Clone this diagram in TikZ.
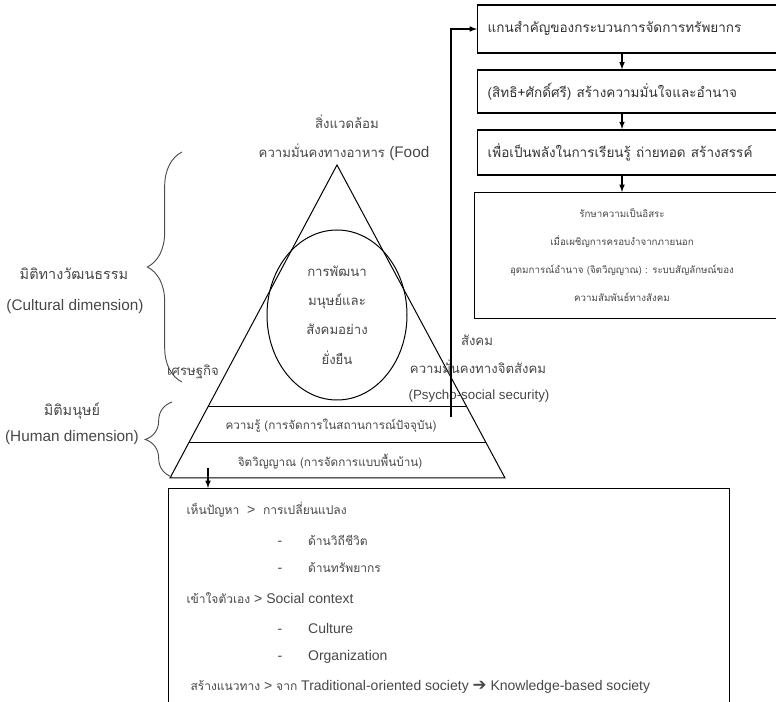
\documentclass[tikz,border=0pt]{standalone}
\usepackage{fontspec}
\setmainfont{Liberation Sans}
\newfontfamily\thaifont[Script=Thai,Scale=0.86]{Loma}
\newfontfamily\symfont{DejaVu Sans}
\usepackage{tikz}
\usetikzlibrary{arrows, calc, shapes.geometric, decorations.pathreplacing}
\newcommand{\tha}[1]{{\thaifont #1}}
\tikzstyle{grayText} = [text=black!72, inner sep=0pt, font=\fontsize{11.5}{14}\selectfont]
\tikzstyle{smallText} = [grayText, font=\fontsize{10}{12}\selectfont]
\tikzstyle{stripText} = [grayText, font=\fontsize{10.2}{12}\selectfont]
\tikzstyle{dimText} = [grayText, font=\fontsize{12.6}{14}\selectfont]
\tikzstyle{bodyText} = [grayText, anchor=west, font=\fontsize{10.5}{13}\selectfont]
\tikzstyle{flowBox} = [draw, rectangle, line width=1.1pt, anchor=west, align=left,
   text width=215pt, inner xsep=7.5pt, text=black!80, font=\fontsize{11.8}{14}\selectfont]
\tikzstyle{flowArrow} = [-latex, line width=0.9pt]
\tikzstyle{cultBrace} = [decorate, decoration={brace, amplitude=26pt}, black!70, line width=0.7pt]
\tikzstyle{humBrace} = [decorate, decoration={brace, amplitude=20pt}, black!70, line width=0.7pt]
\begin{document}
\begin{tikzpicture}[x=0.75pt, y=-0.75pt, line width=0.75pt]
  \useasboundingbox (0,0) rectangle (776,702);
  \clip (0,0) rectangle (776,702);

  % pyramid
  \coordinate (apex) at (337,165);
  \coordinate (bl) at (170,478);
  \coordinate (br) at (505,478);
  \draw (apex) -- (br) -- (bl) -- cycle;
  \draw ($(apex)!0.773!(bl)$) -- ($(apex)!0.773!(br)$);
  \draw ($(apex)!0.888!(bl)$) -- ($(apex)!0.888!(br)$);
  \node[draw, ellipse, minimum width=105pt, minimum height=127.5pt, inner sep=0pt,
    align=center, grayText, font=\fontsize{11.5}{22}\selectfont] (core) at (337,315)
    {\tha{การพัฒนา}\\\tha{มนุษย์และ}\\\tha{สังคมอย่าง}\\\tha{ยั่งยืน}};

  % labels round the pyramid
  \node[grayText] (envTh) at (347,122) {\tha{สิ่งแวดล้อม}};
  \node[grayText] (foodTh) at (344,152) {\tha{ความมั่นคงทางอาหาร} (Food};
  \node[grayText] (socTh) at (477,340) {\tha{สังคม}};
  \node[grayText] (psyTh) at (478,367) {\tha{ความมั่นคงทางจิตสังคม}};
  \node[smallText] (psyEn) at (479,396) {(Psycho-social security)};
  \node[grayText] (ecoTh) at (193,372) {\tha{เศรษฐกิจ}};
  \node[stripText] (knowTh) at (331,426) {\tha{ความรู้ (การจัดการในสถานการณ์ปัจจุบัน)}};
  \node[stripText] (spirTh) at (330,462) {\tha{จิตวิญญาณ (การจัดการแบบพื้นบ้าน)}};

  % dimensions
  \draw[cultBrace] (182,382) -- (182,152);
  \draw[humBrace] (172,477) -- (172,402);
  \node[dimText] (cultTh) at (74,274) {\tha{มิติทางวัฒนธรรม}};
  \node[grayText] (cultEn) at (75,307) {(Cultural dimension)};
  \node[dimText] (humTh) at (72,411) {\tha{มิติมนุษย์}};
  \node[grayText] (humEn) at (72,438) {(Human dimension)};

  % right column
  \node[flowBox, minimum height=36pt] (keyBox) at (477,29) {\tha{แกนสำคัญของกระบวนการจัดการทรัพยากร}};
  \node[flowBox, minimum height=32pt] (rightsBox) at (477,91.5) {\tha{(สิทธิ+ศักดิ์ศรี) สร้างความมั่นใจและอำนาจ}};
  \node[flowBox, minimum height=34pt] (powerBox) at (477,152.5) {\tha{เพื่อเป็นพลังในการเรียนรู้ ถ่ายทอด สร้างสรรค์}};
  \node[draw, line width=1.1pt, anchor=north west, minimum width=233pt, minimum height=94.5pt] (freeBox) at (474,192) {};
  \node[grayText, align=center, font=\fontsize{8.5}{21}\selectfont] (freeText) at (622,255)
    {\tha{รักษาความเป็นอิสระ}\\\tha{เมื่อเผชิญการครอบงำจากภายนอก}\\
     \tha{อุดมการณ์อำนาจ (จิตวิญญาณ) : ระบบสัญลักษณ์ของ}\\\tha{ความสัมพันธ์ทางสังคม}};
  \draw[flowArrow] (keyBox.south -| freeText) -- (rightsBox.north -| freeText);
  \draw[flowArrow] (rightsBox.south -| freeText) -- (powerBox.north -| freeText);
  \draw[flowArrow] (powerBox.south -| freeText) -- (freeBox.north -| freeText);
  \coordinate (knowFoot) at (451,417);
  \draw[flowArrow] (knowFoot) |- (keyBox.west);

  % bottom box
  \node[draw, line width=1.1pt, anchor=north west, minimum width=420.75pt, minimum height=170pt] (actBox) at (168,488) {};
  \coordinate (spirFoot) at (208,468);
  \draw[flowArrow] (spirFoot) -- (spirFoot |- actBox.north);
  \node[bodyText] (seeTh) at (186,510) {\tha{เห็นปัญหา} \ > \ \tha{การเปลี่ยนแปลง}};
  \node[bodyText] (lifeTh) at (277,540) {-\hspace{19.5pt}\tha{ด้านวิถีชีวิต}};
  \node[bodyText] (resTh) at (277,568) {-\hspace{19.5pt}\tha{ด้านทรัพยากร}};
  \node[bodyText] (selfTh) at (186,598) {\tha{เข้าใจตัวเอง} > Social context};
  \node[bodyText] (cultItem) at (277,628) {-\hspace{19.5pt}Culture};
  \node[bodyText] (orgItem) at (277,657) {-\hspace{19.5pt}Organization};
  \node[bodyText] (wayTh) at (190,687) {\tha{สร้างแนวทาง} > \tha{จาก} Traditional-oriented society {\symfont\fontsize{12.5}{13}\selectfont ➔} Knowledge-based society};
\end{tikzpicture}
\end{document}
